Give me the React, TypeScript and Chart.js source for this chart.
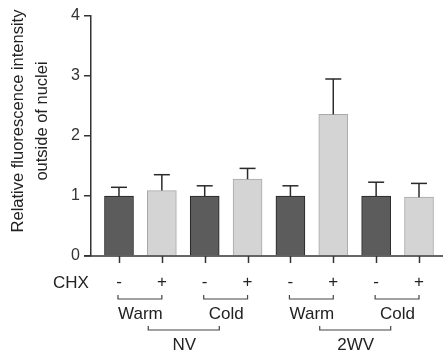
import React, { useEffect, useRef } from "react";
import { Chart, registerables } from "chart.js";

Chart.register(...registerables);

// ---- data ----
const conditions = ["NV Warm -", "NV Warm +", "NV Cold -", "NV Cold +", "2WV Warm -", "2WV Warm +", "2WV Cold -", "2WV Cold +"];
const chxLabels = ["-", "+", "-", "+", "-", "+", "-", "+"];
const tempLabels = ["Warm", "Cold", "Warm", "Cold"];
const groupLabels = ["NV", "2WV"];
const means = [1.0, 1.09, 1.0, 1.28, 1.0, 2.36, 1.0, 0.98];
const errors = [0.145, 0.265, 0.17, 0.18, 0.17, 0.59, 0.23, 0.23];
const yTitle = ["Relative fluorescence intensity", "outside of nuclei"];
const rowLabel = "CHX";

const FONT = '"Liberation Sans", Arial, Helvetica, sans-serif';
const DARK = "#5c5c5c";
const LIGHT = "#d4d4d4";
const AXIS = "#333333";
const TEXT = "#222222";

const annotPlugin = {
  id: "annot",
  afterDatasetsDraw(chart: any) {
    const ctx = chart.ctx;
    const xs = chart.scales.x;
    const ys = chart.scales.y;
    const area = chart.chartArea;
    ctx.save();
    const line = (x1: number, y1: number, x2: number, y2: number) => {
      ctx.beginPath();
      ctx.moveTo(x1, y1);
      ctx.lineTo(x2, y2);
      ctx.stroke();
    };
    // error bars (upper only)
    ctx.strokeStyle = "#2a2a2a";
    ctx.lineWidth = 1.5;
    means.forEach((m, i) => {
      const px = xs.getPixelForValue(i);
      const y0 = ys.getPixelForValue(m);
      const y1 = ys.getPixelForValue(m + errors[i]);
      line(px, y0, px, y1);
      line(px - 8, y1, px + 8, y1);
    });

    // x axis line and ticks
    ctx.strokeStyle = AXIS;
    ctx.lineWidth = 1.5;
    line(area.left - 7, area.bottom, area.right, area.bottom);
    conditions.forEach((_, i) => {
      const px = Math.round(xs.getPixelForValue(i)) + 0.5;
      line(px, area.bottom, px, area.bottom + 7);
    });

    // y title
    ctx.fillStyle = TEXT;
    ctx.font = `16.5px ${FONT}`;
    ctx.textAlign = "center";
    ctx.textBaseline = "middle";
    const titleCy = 121;
    [18, 42].forEach((cx, k) => {
      ctx.save();
      ctx.translate(cx, titleCy);
      ctx.rotate(-Math.PI / 2);
      ctx.fillText(yTitle[k], 0, 0);
      ctx.restore();
    });

    // CHX row
    const rowY = 283;
    ctx.font = `17px ${FONT}`;
    ctx.fillText(rowLabel, 71, rowY);
    chxLabels.forEach((lab, i) => {
      ctx.fillText(lab, xs.getPixelForValue(i), rowY - 1);
    });

    // brackets
    ctx.strokeStyle = "#444";
    ctx.lineWidth = 1.2;
    const bracket = (x1: number, x2: number, yb: number) => {
      ctx.beginPath();
      ctx.moveTo(x1, yb - 4);
      ctx.lineTo(x1, yb);
      ctx.lineTo(x2, yb);
      ctx.lineTo(x2, yb - 4);
      ctx.stroke();
    };
    const tempCenters: number[] = [];
    tempLabels.forEach((lab, k) => {
      const xa = xs.getPixelForValue(2 * k);
      const xb = xs.getPixelForValue(2 * k + 1);
      bracket(xa - 1, xb, 299);
      const c = (xa + xb) / 2;
      tempCenters.push(c);
      ctx.fillText(lab, c, 314.5);
    });
    groupLabels.forEach((lab, k) => {
      const c = (tempCenters[2 * k] + tempCenters[2 * k + 1]) / 2 + 1;
      bracket(c - 36, c + 35, 330);
      ctx.fillText(lab, c, 345);
    });
    ctx.restore();
  },
};

export default function App() {
  const ref = useRef<HTMLCanvasElement>(null);
  useEffect(() => {
    if (!ref.current) return;
    const chart = new Chart(ref.current, {
      type: "bar",
      data: {
        datasets: [
          {
            label: "Relative fluorescence",
            data: means.map((v, i) => ({ x: i, y: v })),
            backgroundColor: means.map((_, i) => (i % 2 === 0 ? DARK : LIGHT)),
            borderColor: means.map((_, i) => (i % 2 === 0 ? "#222222" : "#a8a8a8")),
            borderWidth: 1,
            barThickness: 29,
          },
        ],
      },
      options: {
        responsive: false,
        animation: false,
        layout: { padding: { top: 16, right: 2, bottom: 103, left: 0 } },
        plugins: { legend: { display: false }, tooltip: { enabled: false } },
        scales: {
          x: {
            type: "linear",
            display: false,
            offset: false,
            grid: { offset: false },
            min: -0.653,
            max: 7.56,
          },
          y: {
            min: 0,
            max: 4,
            ticks: { stepSize: 1, color: "#333", font: { size: 16, family: FONT }, padding: 4 },
            grid: { display: true, drawOnChartArea: false, tickLength: 7, color: AXIS, lineWidth: 1.5 },
            border: { display: true, color: AXIS, width: 1.5 },
            afterFit: (scale: any) => {
              scale.width = 91;
            },
          },
        },
      },
      plugins: [annotPlugin],
    } as any);
    return () => chart.destroy();
  }, []);
  return (
    <div style={{ position: "fixed", left: 0, top: 0, width: 445, height: 359, background: "#fff" }}>
      <canvas ref={ref} width={445} height={359} />
    </div>
  );
}
